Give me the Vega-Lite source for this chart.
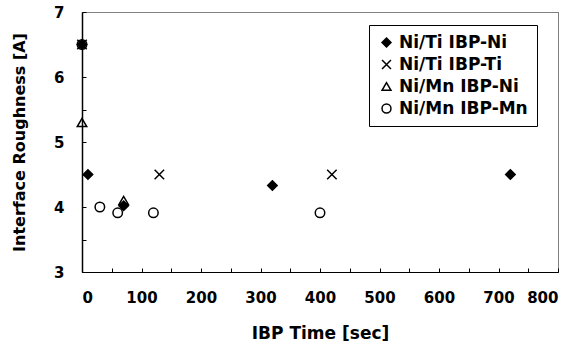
{
  "$schema": "https://vega.github.io/schema/vega-lite/v6.json",
  "width": 476,
  "height": 260,
  "autosize": {"type": "none"},
  "padding": {"left": 82, "top": 12, "right": 20, "bottom": 72},
  "background": "white",
  "config": {
    "view": {"stroke": "black", "strokeDash": [1, 1], "strokeWidth": 1},
    "font": "DejaVu Sans",
    "axis": {"grid": false, "domainColor": "black", "tickColor": "black", "labelColor": "black", "titleColor": "black", "labelFont": "DejaVu Sans", "titleFont": "DejaVu Sans", "labelFontWeight": "bold", "titleFontWeight": "bold", "labelFontSize": 15, "titleFontSize": 16}
  },
  "data": {
    "values": [
      {"t": 0, "r": 6.5, "s": "Ni/Mn IBP-Mn"},
      {"t": 0, "r": 6.5, "s": "Ni/Ti IBP-Ti"},
      {"t": 0, "r": 6.5, "s": "Ni/Ti IBP-Ni"},
      {"t": 10, "r": 4.5, "s": "Ni/Ti IBP-Ni"},
      {"t": 70, "r": 4.02, "s": "Ni/Ti IBP-Ni"},
      {"t": 320, "r": 4.33, "s": "Ni/Ti IBP-Ni"},
      {"t": 720, "r": 4.5, "s": "Ni/Ti IBP-Ni"},
      {"t": 130, "r": 4.5, "s": "Ni/Ti IBP-Ti"},
      {"t": 420, "r": 4.5, "s": "Ni/Ti IBP-Ti"},
      {"t": 0, "r": 5.3, "s": "Ni/Mn IBP-Ni"},
      {"t": 70, "r": 4.1, "s": "Ni/Mn IBP-Ni"},
      {"t": 30, "r": 4.0, "s": "Ni/Mn IBP-Mn"},
      {"t": 60, "r": 3.91, "s": "Ni/Mn IBP-Mn"},
      {"t": 120, "r": 3.91, "s": "Ni/Mn IBP-Mn"},
      {"t": 400, "r": 3.91, "s": "Ni/Mn IBP-Mn"}
    ]
  },
  "mark": {"type": "point", "strokeWidth": 1.5, "opacity": 1, "size": 90},
  "encoding": {
    "x": {"field": "t", "type": "quantitative", "scale": {"domain": [0, 800], "nice": false},
      "axis": {"title": "IBP Time [sec]", "titleFontSize": 17, "values": [0,50,100,150,200,250,300,350,400,450,500,550,600,650,700,750,800], "labelExpr": "datum.value % 100 == 0 ? datum.label : ''", "tickSize": -4, "labelPadding": 22, "titlePadding": 20, "domainWidth": 1}},
    "y": {"field": "r", "type": "quantitative", "scale": {"domain": [3, 7], "nice": false},
      "axis": {"title": "Interface Roughness [A]", "values": [3,3.5,4,4.5,5,5.5,6,6.5,7], "labelExpr": "datum.value % 1 == 0 ? format(datum.value, 'd') : ''", "tickSize": -4, "labelPadding": 22, "titlePadding": 26, "domainWidth": 1.5}},
    "shape": {"field": "s", "type": "nominal",
      "scale": {"domain": ["Ni/Ti IBP-Ni", "Ni/Ti IBP-Ti", "Ni/Mn IBP-Ni", "Ni/Mn IBP-Mn"], "range": ["diamond", "M-1,-1L1,1M-1,1L1,-1", "triangle-up", "circle"]},
      "legend": {"title": null, "orient": "none", "legendX": 287, "legendY": 13, "strokeColor": "black", "fillColor": "white", "padding": 9, "rowPadding": 4, "labelFontSize": 17, "labelFontWeight": "bold", "labelFont": "DejaVu Sans", "labelColor": "black", "symbolSize": 80, "labelOffset": 4,
        "encode": {"symbols": {"update": {"stroke": {"value": "black"}, "strokeWidth": {"value": 1.3}}}}}},
    "fill": {"field": "s", "type": "nominal",
      "scale": {"domain": ["Ni/Ti IBP-Ni", "Ni/Ti IBP-Ti", "Ni/Mn IBP-Ni", "Ni/Mn IBP-Mn"], "range": ["black", "transparent", "transparent", "transparent"]},
      "legend": {"title": null}},
    "stroke": {"value": "black"}
  }
}
